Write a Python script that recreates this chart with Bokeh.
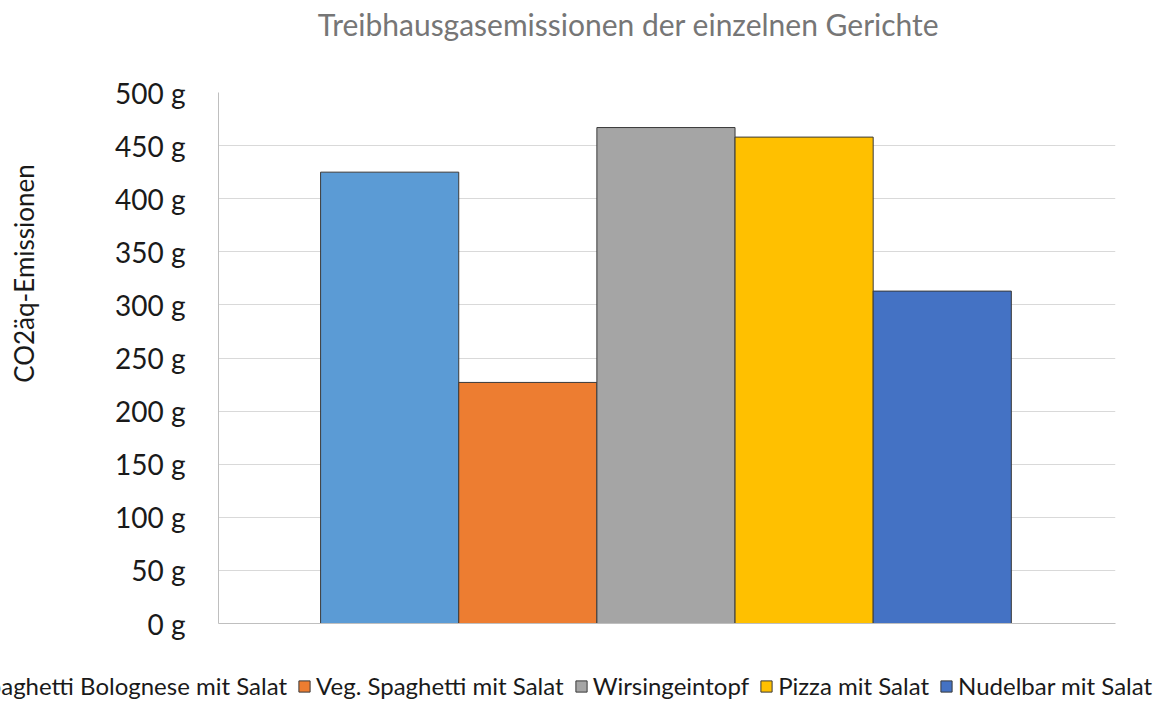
import math
from bokeh.plotting import figure
from bokeh.models import ColumnDataSource, FixedTicker, Range1d, Label
from bokeh.layouts import column, row
from bokeh.embed import file_html
from bokeh.resources import INLINE

# ---- data ----
dishes = ["Spaghetti Bolognese mit Salat", "Veg. Spaghetti mit Salat",
          "Wirsingeintopf", "Pizza mit Salat", "Nudelbar mit Salat"]
emissions = [425, 227, 467, 458, 313]
colors = ["#5B9BD5", "#ED7D31", "#A5A5A5", "#FFC000", "#4472C4"]
y_ticks = [0, 50, 100, 150, 200, 250, 300, 350, 400, 450, 500]
y_tick_labels = [f"{t} g" for t in y_ticks]
title_text = "Treibhausgasemissionen der einzelnen Gerichte"
y_label_text = "CO2äq-Emissionen"

FONT = "Lato"
W = 1155
TITLE_H = 60
MAIN_H = 590
LEG_H = 50
YLAB_W = 60

positions = list(range(len(dishes)))
source = ColumnDataSource(dict(x=positions, top=emissions, color=colors, name=dishes))


def blank(w, h):
    f = figure(width=w, height=h, output_backend="svg", toolbar_location=None,
               x_range=Range1d(0, w), y_range=Range1d(0, h),
               x_axis_location=None, y_axis_location=None,
               min_border_left=0, min_border_right=0, min_border_top=0, min_border_bottom=0)
    f.outline_line_color = None
    f.grid.grid_line_color = None
    f.frame_align = False
    return f


# ---- main chart ----
p = figure(width=W - YLAB_W, height=MAIN_H, output_backend="svg", toolbar_location=None,
           x_range=Range1d(-1.239, 5.254), y_range=Range1d(0, 500),
           min_border_left=218 - YLAB_W, min_border_right=40, min_border_top=32, min_border_bottom=27)
p.frame_align = False
p.outline_line_color = None
p.background_fill_color = "white"
p.border_fill_color = "white"

p.vbar(x="x", top="top", width=1.0, source=source, fill_color="color",
       line_color="#3a3a3a", line_width=1)

p.yaxis.ticker = FixedTicker(ticks=y_ticks)
p.yaxis.major_label_overrides = {t: l for t, l in zip(y_ticks, y_tick_labels)}
p.yaxis.major_label_text_font = FONT
p.yaxis.major_label_text_font_size = "28px"
p.yaxis.major_label_text_color = "#1a1a1a"
p.yaxis.major_tick_line_color = None
p.yaxis.minor_tick_line_color = None
p.yaxis.axis_line_color = "#BFBFBF"
p.yaxis.major_label_standoff = 27

p.xaxis.major_label_text_font_size = "0px"
p.xaxis.major_tick_line_color = None
p.xaxis.minor_tick_line_color = None
p.xaxis.major_tick_in = 0
p.xaxis.major_tick_out = 0
p.xaxis.major_label_standoff = 0
p.xaxis.axis_line_color = "#BFBFBF"
p.xaxis.ticker = FixedTicker(ticks=[])

p.xgrid.grid_line_color = None
p.ygrid.grid_line_color = "#D9D9D9"
p.ygrid.ticker = FixedTicker(ticks=y_ticks)

# ---- title strip ----
tf = blank(W, TITLE_H)
tf.add_layout(Label(x=628, y=TITLE_H - 23, text=title_text, text_font=FONT,
                    text_font_size="30px", text_color="#767676",
                    text_align="center", text_baseline="alphabetic"))

# ---- y-label strip ----
yf = blank(YLAB_W, MAIN_H)
yf.add_layout(Label(x=23, y=TITLE_H + MAIN_H - 273, text=y_label_text, angle=math.pi / 2,
                    text_font=FONT, text_font_size="26px", text_color="#1a1a1a",
                    text_align="center", text_baseline="middle"))

# ---- legend strip (dummy bars lie outside the visible range) ----
lf = figure(width=W, height=LEG_H, output_backend="svg", toolbar_location=None,
            x_range=Range1d(-100, -99), y_range=Range1d(0, 1),
            x_axis_location=None, y_axis_location=None,
            min_border_left=0, min_border_right=0, min_border_top=0, min_border_bottom=0)
lf.frame_align = False
lf.outline_line_color = None
lf.grid.grid_line_color = None
lf.vbar(x="x", top="top", width=1.0, source=source, fill_color="color",
        line_color="#3a3a3a", line_width=1, legend_field="name")
leg = lf.legend[0]
leg.orientation = "horizontal"
leg.location = (-44, 0)
leg.glyph_width = 14
leg.glyph_height = 14
leg.label_standoff = 5
leg.spacing = 10
leg.padding = 0
leg.margin = 0
leg.border_line_color = None
leg.background_fill_alpha = 0
leg.label_text_font = FONT
leg.label_text_font_size = "24px"
leg.label_text_color = "#1a1a1a"
leg.label_height = 14

layout = column(tf, row(yf, p, spacing=0), lf, spacing=0)
open("out.html", "w").write(file_html(layout, INLINE))
